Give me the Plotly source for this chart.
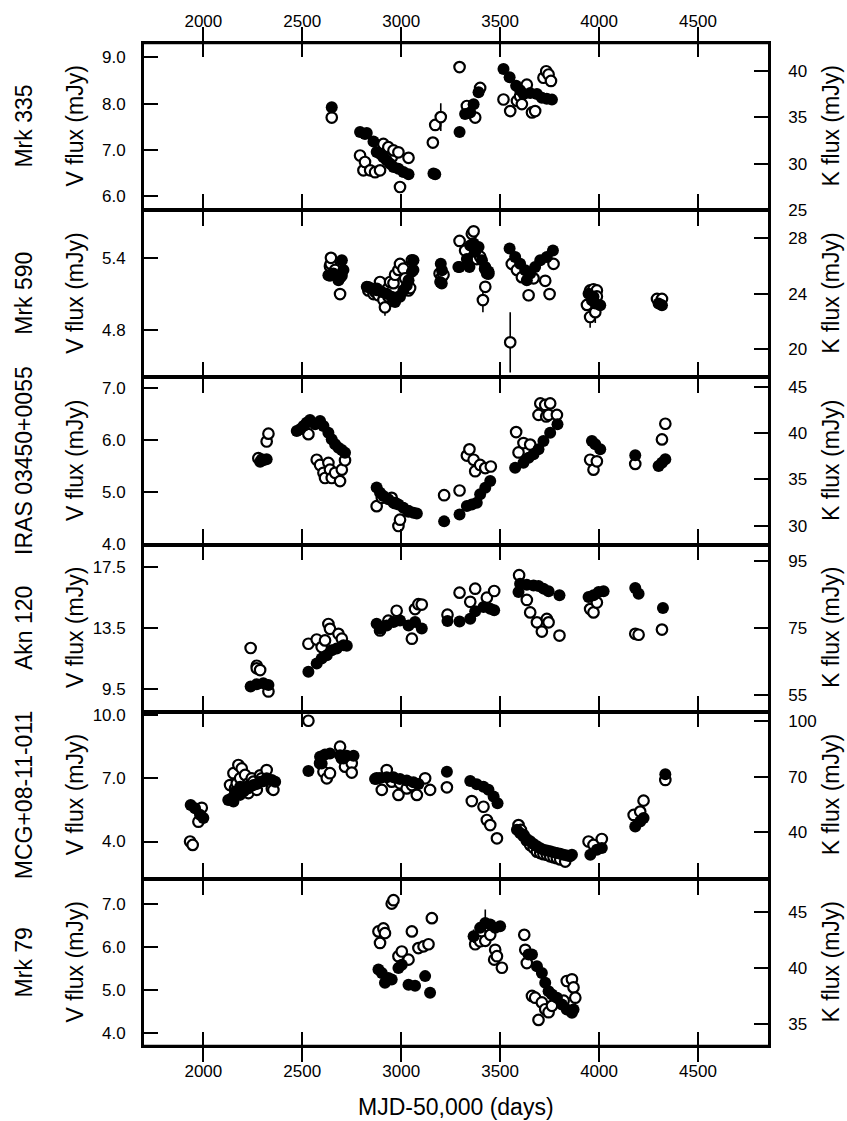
import plotly.graph_objects as go

FONT = "Liberation Sans, Arial, Helvetica, sans-serif"

# ---------------- data (MJD-50000, flux in mJy) ----------------
# Mrk 335
mrk335_v_mjd = [2649, 2792, 2809, 2817, 2843, 2868, 2893, 2910, 2927, 2935, 2952, 2961, 2986, 2994, 3037,
                3160, 3172, 3200, 3295, 3332, 3374, 3399, 3517, 3551, 3585, 3601, 3610, 3635, 3661, 3677,
                3719, 3733, 3745, 3757]
mrk335_v = [7.70, 6.88, 6.56, 6.74, 6.56, 6.52, 6.56, 7.13, 6.95, 7.06, 6.84, 6.99, 6.95, 6.20, 6.83,
            7.16, 7.54, 7.71, 8.79, 7.95, 7.70, 8.34, 8.09, 7.84, 8.06, 8.16, 7.99, 8.41, 7.81, 7.84,
            8.56, 8.70, 8.63, 8.49]
mrk335_v_err = [0, 0, 0, 0, 0, 0, 0, 0, 0, 0, 0, 0, 0, 0, 0,
                0, 0.12, 0.3, 0, 0, 0, 0, 0, 0, 0, 0, 0, 0, 0, 0,
                0, 0, 0, 0]
mrk335_k_mjd = [2649, 2792, 2817, 2826, 2860, 2876, 2893, 2910, 2927, 2944, 2961, 2986, 3011, 3037, 3163,
                3172, 3295, 3323, 3349, 3366, 3391, 3517, 3548, 3581, 3601, 3618, 3652, 3686, 3711, 3736, 3762]
mrk335_k = [36.07, 33.4, 33.2, 33.3, 32.4, 31.25, 31.07, 30.7, 30.36, 30.0, 29.64, 29.46, 29.1, 28.86, 28.93,
            28.86, 33.4, 35.36, 35.5, 36.4, 37.7, 40.2, 39.3, 38.4, 37.9, 37.5, 37.6, 37.5, 37.1, 37.0, 36.9]

# Mrk 590
mrk590_v_mjd = [2640, 2644, 2645, 2666, 2691, 2691, 2834, 2860, 2868, 2885, 2893, 2910, 2918, 2935, 2944,
                2961, 2969, 2986, 2994, 3011, 3020, 3037, 3045, 3054, 3194, 3205, 3214, 3295, 3323, 3357,
                3366, 3382, 3399, 3413, 3424, 3425, 3441, 3551, 3559, 3585, 3610, 3644, 3669, 3728, 3750,
                3770, 3939, 3955, 3955, 3972, 3981, 3989, 3989, 4293, 4318]
mrk590_v = [5.33, 5.35, 5.40, 5.30, 5.24, 5.10, 5.13, 5.10, 5.12, 5.09, 5.20, 5.05, 4.99, 5.08, 5.20,
            5.19, 5.26, 5.30, 5.35, 5.31, 5.23, 5.13, 5.15, 5.38, 5.27, 5.24, 5.26, 5.54, 5.46, 5.60,
            5.62, 5.39, 5.41, 5.05, 5.31, 5.16, 5.27, 4.70, 5.35, 5.30, 5.24, 5.09, 5.23, 5.21, 5.10,
            5.35, 5.01, 5.13, 4.91, 5.14, 4.95, 5.13, 5.08, 5.06, 5.06]
mrk590_v_err = [0, 0, 0, 0, 0, 0.05, 0, 0, 0, 0, 0, 0, 0.07, 0, 0,
                0, 0, 0, 0, 0, 0, 0, 0.05, 0, 0, 0, 0, 0, 0, 0,
                0, 0, 0, 0.1, 0, 0, 0, 0.25, 0, 0, 0, 0.05, 0, 0, 0.05,
                0, 0, 0, 0.09, 0, 0.09, 0, 0, 0, 0]
mrk590_k_mjd = [2632, 2640, 2657, 2683, 2700, 2700, 2708, 2826, 2834, 2851, 2876, 2877, 2902, 2927, 2952,
                2969, 2986, 2994, 3011, 3028, 3037, 3054, 3062, 3062, 3197, 3200, 3205, 3206, 3289, 3295,
                3332, 3345, 3349, 3366, 3374, 3391, 3408, 3425, 3433, 3441, 3548, 3576, 3601, 3627, 3635,
                3652, 3677, 3703, 3736, 3767, 3947, 3964, 3972, 3981, 4006, 4301, 4318]
mrk590_k = [25.33, 25.3, 25.45, 24.97, 26.4, 25.3, 25.7, 24.5, 24.49, 24.37, 24.25, 24.37, 24.13, 24.0, 23.78,
            23.4, 23.78, 23.78, 24.25, 24.6, 24.97, 25.57, 25.7, 26.4, 24.85, 26.16, 24.73, 25.68, 25.92, 25.92,
            26.5, 25.92, 27.47, 27.6, 27.0, 27.36, 26.4, 25.92, 25.45, 25.6, 27.24, 26.64, 26.16, 25.68, 24.97,
            25.45, 25.92, 26.4, 26.64, 27.1, 24.0, 23.53, 23.78, 23.3, 23.18, 23.3, 23.18]

# IRAS 03450+0055
iras_v_mjd = [2278, 2320, 2329, 2531, 2573, 2590, 2607, 2615, 2632, 2640, 2649, 2666, 2691, 2700, 2716,
              2876, 2902, 2952, 2969, 2986, 2994, 3037, 3217, 3295, 3332, 3345, 3366, 3374, 3399, 3425,
              3453, 3581, 3593, 3618, 3652, 3694, 3703, 3728, 3733, 3745, 3753, 3787, 3955, 3972, 3989,
              4183, 4318, 4335]
iras_v = [5.65, 5.97, 6.12, 6.11, 5.62, 5.52, 5.37, 5.27, 5.56, 5.43, 5.27, 5.37, 5.21, 5.43, 5.61,
          4.73, 4.89, 4.89, 4.79, 4.35, 4.47, 4.63, 4.94, 5.03, 5.70, 5.82, 5.62, 5.40, 5.52, 5.46,
          5.49, 6.15, 5.76, 5.94, 5.91, 6.48, 6.70, 6.67, 6.45, 6.48, 6.70, 6.48, 5.62, 5.43, 5.59,
          5.54, 6.01, 6.31]
iras_k_mjd = [2287, 2295, 2303, 2320, 2472, 2489, 2506, 2522, 2539, 2565, 2590, 2607, 2632, 2649, 2666,
              2683, 2700, 2716, 2876, 2893, 2910, 2935, 2961, 2986, 3011, 3037, 3062, 3079, 3217, 3295,
              3332, 3357, 3382, 3399, 3425, 3450, 3576, 3618, 3644, 3669, 3694, 3719, 3753, 3790, 3964,
              3981, 4006, 4183, 4301, 4318, 4335]
iras_k = [36.92, 37.17, 37.06, 37.17, 40.22, 40.4, 40.76, 41.12, 41.4, 40.94, 41.3, 40.76, 40.04, 39.32, 38.79,
          38.43, 38.18, 37.89, 34.15, 33.58, 33.22, 32.86, 32.5, 32.32, 31.96, 31.6, 31.42, 31.35, 30.49, 31.24,
          32.14, 32.32, 32.5, 33.4, 34.12, 34.83, 36.27, 36.81, 37.35, 37.71, 38.25, 39.15, 40.04, 40.94, 39.15,
          38.79, 38.25, 37.6, 36.45, 36.81, 37.17]

# Akn 120
akn120_v_mjd = [2239, 2270, 2270, 2287, 2329, 2531, 2573, 2598, 2615, 2632, 2640, 2683, 2700, 2893, 2935,
                2977, 3054, 3070, 3087, 3104, 3234, 3295, 3349, 3374, 3433, 3470, 3596, 3635, 3652, 3686,
                3711, 3736, 3745, 3800, 3955, 3972, 3989, 4183, 4200, 4318]
akn120_v = [12.19, 11.02, 10.85, 10.74, 9.33, 12.47, 12.75, 12.25, 12.69, 13.77, 13.45, 13.12, 12.8, 13.34, 13.99,
            14.64, 12.8, 14.75, 15.07, 15.05, 14.38, 15.83, 15.23, 16.09, 15.5, 15.94, 16.98, 15.35, 14.53, 13.88,
            13.27, 14.1, 13.88, 13.01, 14.75, 14.53, 15.18, 13.12, 13.06, 13.4]
akn120_k_mjd = [2239, 2270, 2303, 2329, 2531, 2573, 2598, 2624, 2649, 2674, 2708, 2725, 2876, 2893, 2927,
                2961, 2994, 3037, 3070, 3104, 3234, 3295, 3349, 3374, 3416, 3450, 3470, 3593, 3601, 3635,
                3669, 3694, 3719, 3745, 3800, 3947, 3972, 3998, 4023, 4183, 4200, 4323]
akn120_k = [57.5, 58.2, 58.5, 58.0, 61.96, 64.4, 65.9, 66.9, 68.4, 68.9, 69.9, 69.7, 76.3, 74.8, 75.8,
            76.8, 77.3, 75.8, 76.8, 74.9, 77.1, 77.0, 77.8, 80.0, 81.3, 80.8, 80.3, 85.8, 88.25, 87.96,
            87.76, 87.56, 86.8, 86.0, 84.8, 84.3, 84.8, 85.8, 86.0, 87.0, 85.3, 81.0]

# MCG+08-11-011
mcg_v_mjd = [1933, 1946, 1975, 1992, 2135, 2152, 2160, 2169, 2177, 2186, 2194, 2211, 2228, 2228, 2245,
             2253, 2270, 2287, 2295, 2320, 2346, 2354, 2531, 2590, 2607, 2624, 2640, 2691, 2700, 2716,
             2750, 2750, 2876, 2902, 2927, 2952, 2986, 2994, 3028, 3054, 3079, 3121, 3146, 3231, 3357,
             3416, 3433, 3450, 3484, 3593, 3605, 3618, 3635, 3652, 3669, 3686, 3703, 3719, 3736, 3753,
             3770, 3787, 3804, 3829, 3947, 3972, 4014, 4175, 4208, 4225, 4335]
mcg_v = [4.0, 3.84, 4.94, 5.6, 6.68, 7.24, 6.52, 6.76, 7.63, 7.0, 7.47, 7.16, 6.76, 6.3, 7.0,
         6.84, 6.45, 7.14, 7.0, 7.39, 6.52, 6.45, 9.73, 7.71, 7.31, 7.0, 7.24, 8.5, 7.95, 7.55,
         7.71, 7.27, 7.0, 6.45, 7.39, 6.84, 6.21, 6.76, 6.52, 6.68, 6.21, 7.0, 6.45, 6.57, 5.92,
         5.65, 5.02, 4.78, 4.15, 4.78, 4.55, 4.31, 4.05, 3.84, 3.70, 3.52, 3.45, 3.40, 3.37, 3.30,
         3.25, 3.21, 3.15, 3.05, 4.0, 3.84, 4.12, 5.26, 5.42, 5.94, 6.92]
mcg_k_mjd = [1936, 1958, 1983, 2000, 2126, 2143, 2152, 2160, 2160, 2177, 2186, 2186, 2194, 2203, 2219,
             2228, 2253, 2270, 2287, 2303, 2320, 2346, 2363, 2531, 2590, 2598, 2615, 2640, 2691, 2708,
             2725, 2759, 2868, 2893, 2927, 2961, 2994, 3028, 3062, 3087, 3231, 3349, 3382, 3416, 3441,
             3467, 3487, 3585, 3602, 3618, 3635, 3652, 3669, 3686, 3703, 3719, 3736, 3753, 3770, 3787,
             3804, 3821, 3838, 3854, 3863, 3956, 3989, 4014, 4183, 4208, 4225, 4335]
mcg_k = [54.8, 53.0, 49.5, 47.7, 57.5, 58.4, 56.6, 60.2, 61.9, 62.0, 60.2, 64.6, 62.9, 62.0, 64.6,
         63.7, 65.5, 66.0, 67.3, 67.5, 69.1, 68.2, 67.3, 73.0, 80.7, 77.1, 82.0, 82.5, 81.6, 79.8,
         81.3, 81.3, 68.75, 69.3, 69.7, 69.7, 68.75, 67.9, 67.0, 66.1, 72.7, 67.7, 65.9, 64.6, 62.9,
         59.3, 55.7, 41.4, 39.5, 37.9, 36.5, 35.2, 33.8, 32.5, 31.5, 30.7, 30.2, 29.8, 29.3, 28.9,
         28.5, 28.0, 27.6, 27.1, 28.0, 28.0, 30.7, 31.6, 43.2, 45.9, 47.7, 71.25]

# Mrk 79
mrk79_v_mjd = [2885, 2893, 2910, 2918, 2952, 2961, 2986, 3003, 3037, 3054, 3087, 3113, 3138, 3155, 3374,
               3399, 3425, 3450, 3470, 3475, 3484, 3509, 3622, 3627, 3635, 3661, 3677, 3694, 3711, 3728,
               3745, 3762, 3821, 3837, 3863, 3871, 3880]
mrk79_v = [6.37, 6.10, 6.44, 6.33, 7.02, 7.10, 5.79, 5.90, 5.71, 6.37, 5.98, 6.02, 6.07, 6.68, 6.07,
           6.14, 6.15, 6.29, 5.71, 5.94, 5.79, 5.52, 6.29, 5.94, 5.63, 4.86, 4.82, 4.30, 4.71, 4.55,
           4.48, 4.63, 4.75, 5.21, 5.25, 5.06, 4.82]
mrk79_v_err = [0, 0, 0, 0, 0, 0, 0, 0, 0, 0, 0, 0, 0, 0, 0.1,
               0, 0, 0, 0, 0, 0.1, 0, 0, 0, 0, 0, 0, 0, 0, 0,
               0, 0, 0, 0, 0, 0, 0]
mrk79_k_mjd = [2885, 2902, 2918, 2935, 2952, 2986, 3003, 3037, 3070, 3121, 3146, 3366, 3399, 3425, 3450,
               3475, 3500, 3644, 3661, 3686, 3711, 3728, 3745, 3762, 3787, 3812, 3837, 3863, 3871]
mrk79_k = [39.86, 39.56, 38.67, 39.1, 38.97, 40.0, 40.3, 38.5, 38.4, 39.27, 37.77, 42.85, 43.6, 44.04, 43.9,
           43.6, 43.75, 41.2, 41.2, 40.16, 39.56, 38.67, 37.92, 37.62, 37.32, 36.73, 36.28, 35.98, 36.28]
mrk79_k_err = [0, 0, 0, 0, 0, 0, 0, 0, 0, 0, 0, 0.6, 0, 1.2, 0,
               0, 0, 0, 0, 0, 0, 0, 0, 0, 0, 0, 0, 0, 0]

# panel labels and ticks
names = ["Mrk 335", "Mrk 590", "IRAS 03450+0055", "Akn 120", "MCG+08-11-011", "Mrk 79"]
v_ticks = [[6.0, 7.0, 8.0, 9.0], [4.8, 5.4], [4.0, 5.0, 6.0, 7.0], [9.5, 13.5, 17.5], [4.0, 7.0, 10.0], [4.0, 5.0, 6.0, 7.0]]
k_ticks = [[25, 30, 35, 40], [20, 24, 28], [30, 35, 40, 45], [55, 75, 95], [40, 70, 100], [35, 40, 45]]
x_ticks = [2000, 2500, 3000, 3500, 4000, 4500]

panels = [
    (mrk335_v_mjd, mrk335_v, mrk335_v_err, mrk335_k_mjd, mrk335_k, None),
    (mrk590_v_mjd, mrk590_v, mrk590_v_err, mrk590_k_mjd, mrk590_k, None),
    (iras_v_mjd, iras_v, None, iras_k_mjd, iras_k, None),
    (akn120_v_mjd, akn120_v, None, akn120_k_mjd, akn120_k, None),
    (mcg_v_mjd, mcg_v, None, mcg_k_mjd, mcg_k, None),
    (mrk79_v_mjd, mrk79_v, mrk79_v_err, mrk79_k_mjd, mrk79_k, mrk79_k_err),
]
v_ranges = [[5.7, 9.31], [4.41, 5.795], [3.995, 7.2], [8.0, 19.0], [2.23, 10.16], [3.69, 7.6]]
k_ranges = [[24.99, 43.0], [18.0, 30.0], [28.0, 46.0], [50.0, 100.0], [15.0, 105.0], [33.0, 48.0]]

# ---------------- figure ----------------
W, H = 847, 1121
ML, MR, MT, MB = 144, 79, 38, 75
PW = W - ML - MR
PH = H - MT - MB
N = 6

fig = go.Figure()
layout = dict(
    width=W, height=H,
    margin=dict(l=ML, r=MR, t=MT, b=MB, pad=0),
    paper_bgcolor="white", plot_bgcolor="white",
    showlegend=False,
    font=dict(family=FONT, size=17, color="black"),
)

def ax_id(prefix, n):
    return prefix if n == 1 else f"{prefix}{n}"

annotations = []
LW = 2.7
XLW = 1.5   # shared panel borders: two half-width lines meet
TW = 2.0
for i in range(N):
    p = i + 1
    xa = ax_id("x", p)
    yv = ax_id("y", 2 * p - 1)
    yk = ax_id("y", 2 * p)
    top = 1 - i / N
    bot = 1 - (i + 1) / N
    vm, vv, ve, km, kk, ke = panels[i]

    vtrace = dict(x=vm, y=vv, mode="markers", xaxis=xa, yaxis=yv, cliponaxis=True,
                  marker=dict(symbol="circle", size=10.5, color="white",
                              line=dict(color="black", width=2.2)))
    if ve is not None:
        vtrace["error_y"] = dict(type="data", array=ve, visible=True, color="black", thickness=1.6, width=0)
    fig.add_trace(go.Scatter(**vtrace))

    ktrace = dict(x=km, y=kk, mode="markers", xaxis=xa, yaxis=yk, cliponaxis=True,
                  marker=dict(symbol="circle", size=12, color="black", line=dict(width=0)))
    if ke is not None:
        ktrace["error_y"] = dict(type="data", array=ke, visible=True, color="black", thickness=1.6, width=0)
    fig.add_trace(go.Scatter(**ktrace))

    xcfg = dict(domain=[0, 1], range=[1700, 4854], anchor=yv,
                tickmode="array", tickvals=x_ticks, ticktext=[str(t) for t in x_ticks],
                ticks="inside", ticklen=14, tickwidth=TW, tickcolor="black",
                showline=True, linewidth=XLW, linecolor="black", mirror="allticks",
                showgrid=False, zeroline=False, showticklabels=False,
                tickfont=dict(family=FONT, size=17, color="black"))
    if p == 1:
        xcfg.update(side="top", showticklabels=True, ticklabelstandoff=7)
    if p > 1:
        xcfg["matches"] = "x"
    if p == N:
        xcfg.update(side="bottom", showticklabels=True, ticklabelstandoff=9)
    layout["xaxis" if p == 1 else f"xaxis{p}"] = xcfg

    layout["yaxis" if 2 * p - 1 == 1 else f"yaxis{2 * p - 1}"] = dict(
        domain=[bot, top], range=v_ranges[i], anchor=xa, side="left",
        tickmode="array", tickvals=v_ticks[i], ticktext=[f"{t:.1f}" for t in v_ticks[i]],
        ticks="inside", ticklen=14, tickwidth=TW, tickcolor="black",
        showline=True, linewidth=LW, linecolor="black", mirror=False,
        showgrid=False, zeroline=False, ticklabelstandoff=12,
        tickfont=dict(family=FONT, size=17, color="black"))
    layout[f"yaxis{2 * p}"] = dict(
        domain=[bot, top], range=k_ranges[i], anchor=xa, side="right", overlaying=yv,
        tickmode="array", tickvals=k_ticks[i], ticktext=[str(t) for t in k_ticks[i]],
        ticks="inside", ticklen=14, tickwidth=TW, tickcolor="black",
        showline=True, linewidth=LW, linecolor="black", mirror=False,
        showgrid=False, zeroline=False, ticklabelstandoff=14,
        tickfont=dict(family=FONT, size=17, color="black"))

    yc = (top + bot) / 2
    annotations.append(dict(text=names[i], xref="paper", yref="paper", x=(24 - ML) / PW, y=yc,
                            xanchor="center", yanchor="middle", textangle=-90, showarrow=False,
                            font=dict(family=FONT, size=23, color="black")))
    annotations.append(dict(text="V flux (mJy)", xref="paper", yref="paper", x=(75 - ML) / PW, y=yc,
                            xanchor="center", yanchor="middle", textangle=-90, showarrow=False,
                            font=dict(family=FONT, size=23, color="black")))
    annotations.append(dict(text="K flux (mJy)", xref="paper", yref="paper", x=(831 - ML) / PW, y=yc,
                            xanchor="center", yanchor="middle", textangle=-90, showarrow=False,
                            font=dict(family=FONT, size=23, color="black")))

annotations.append(dict(text="MJD-50,000 (days)", xref="paper", yref="paper", x=0.5,
                        y=(H - MB - 1107) / PH, xanchor="center", yanchor="middle", showarrow=False,
                        font=dict(family=FONT, size=23, color="black")))
layout["annotations"] = annotations

# outer top and bottom frame edges at full thickness
layout["shapes"] = [
    dict(type="line", xref="paper", yref="paper", x0=0, x1=1, y0=1, y1=1,
         line=dict(color="black", width=LW), layer="above"),
    dict(type="line", xref="paper", yref="paper", x0=0, x1=1, y0=0, y1=0,
         line=dict(color="black", width=LW), layer="above"),
]

fig.update_layout(**layout)
fig.write_html("out.html",
               config={"displayModeBar": False},
               post_script="document.body.style.margin='0';document.body.style.padding='0';"
                           "document.body.style.overflow='hidden';")
